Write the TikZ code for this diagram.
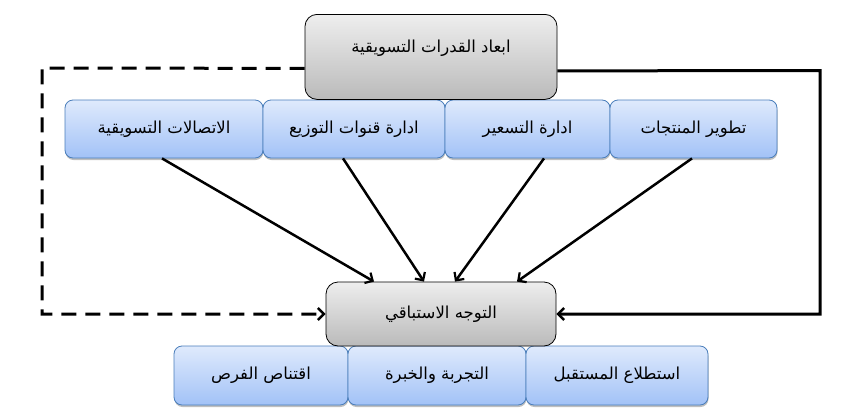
\documentclass[tikz,border=0pt]{standalone}
\usepackage{fontspec}
\newfontfamily\arabicfont[Script=Arabic]{DejaVu Sans}
\TeXXeTstate=1
\usetikzlibrary{arrows.meta,shadows}
\definecolor{bluetop}{HTML}{DFEAFC}
\definecolor{bluebot}{HTML}{A2C2F7}
\definecolor{blueedge}{HTML}{4A7EBB}
\definecolor{graytop}{HTML}{EEEEEE}
\definecolor{graybot}{HTML}{BABABA}
\newcommand{\ar}[1]{\arabicfont\fontsize{16.5}{19}\selectfont\beginR #1\endR}
\tikzset{
  bluebox/.style={draw=blueedge, line width=0.8pt, rounded corners=8pt,
    top color=bluetop, bottom color=bluebot, inner sep=0pt,
    drop shadow={shadow xshift=0.5pt, shadow yshift=-2pt, opacity=0.25, fill=black}},
  graybox/.style={draw=black, line width=0.8pt, rounded corners=12pt,
    top color=graytop, bottom color=graybot, inner sep=0pt},
  loopline/.style={line width=3pt, -{Straight Barb[length=6pt,width=12pt,line width=2.5pt]}},
  feedline/.style={line width=2.5pt, -{Straight Barb[length=6pt,width=12pt,line width=2.2pt]}}
}
\begin{document}
\begin{tikzpicture}[x=1pt,y=1pt]
\useasboundingbox (0,0) rectangle (857,-418);
% first row
\node[bluebox, minimum width=198pt, minimum height=58pt] (a) at (164,-129) {\ar{الاتصالات التسويقية}};
\node[bluebox, minimum width=182pt, minimum height=58pt] (b) at (354,-129) {\ar{ادارة قنوات التوزيع}};
\node[bluebox, minimum width=165pt, minimum height=58pt] (c) at (527.5,-129) {\ar{ادارة التسعير}};
\node[bluebox, minimum width=167pt, minimum height=58pt] (d) at (693.5,-129) {\ar{تطوير المنتجات}};
% top box
\node[graybox, anchor=north, minimum width=252pt, text height=38pt, text depth=47pt] (top) at (431,-14) {\ar{ابعاد القدرات التسويقية}};
% bottom row
\node[bluebox, minimum width=174pt, minimum height=59pt] (e) at (261,-375.5) {\ar{اقتناص الفرص}};
\node[bluebox, minimum width=178pt, minimum height=59pt] (f) at (437,-375.5) {\ar{التجربة والخبرة}};
\node[bluebox, minimum width=182pt, minimum height=59pt] (g) at (617,-375.5) {\ar{استطلاع المستقبل}};
% middle box
\node[graybox, minimum width=230pt, minimum height=64pt] (mid) at (441,-314) {\ar{التوجه الاستباقي}};
% loops
\coordinate (dc) at (42,-68);
\coordinate (sc) at (820,-70.5);
\draw[loopline, dash pattern=on 15pt off 9pt] ([yshift=-11.5pt]top.west) -- (dc) |- (mid.west);
\draw[loopline] ([yshift=-14pt]top.east) -- (sc) |- (mid.east);
% arrows
\draw[feedline] ([xshift=-2pt]a.south) -- ([xshift=-67pt]mid.north);
\draw[feedline] ([xshift=-11pt]b.south) -- ([xshift=-17pt]mid.north);
\draw[feedline] ([xshift=16.5pt]c.south) -- ([xshift=14pt]mid.north);
\draw[feedline] ([xshift=-1.5pt]d.south) -- ([xshift=76pt]mid.north);
\end{tikzpicture}
\end{document}
